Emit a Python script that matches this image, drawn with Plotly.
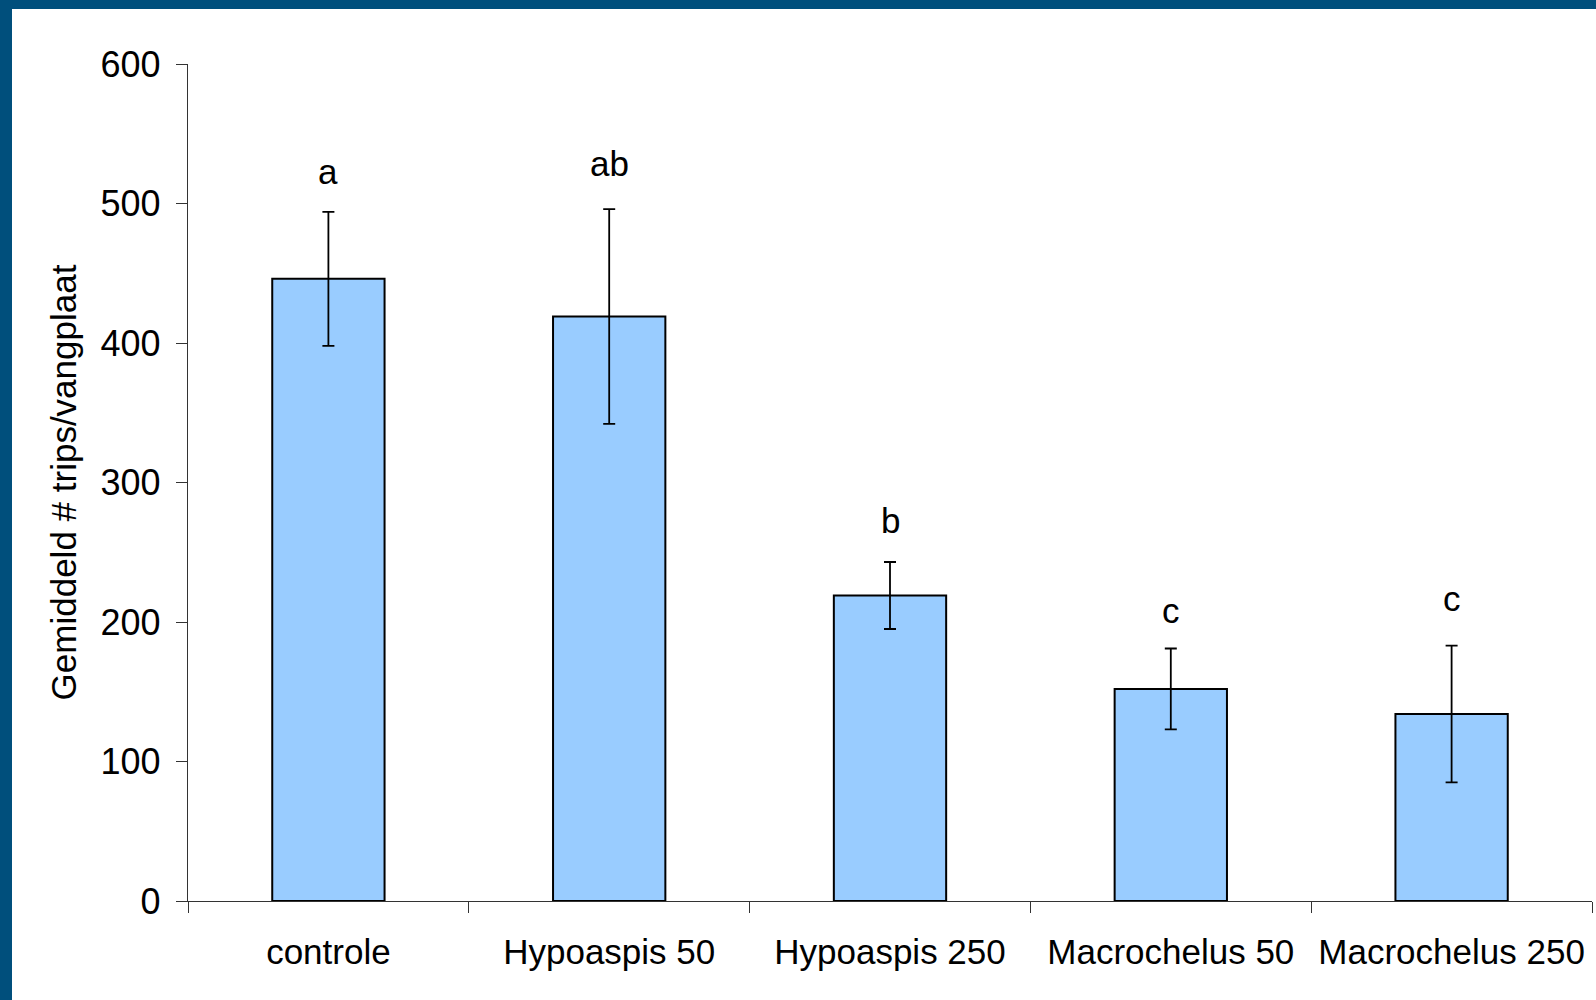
import plotly.graph_objects as go

categories = ["controle", "Hypoaspis 50", "Hypoaspis 250", "Macrochelus 50", "Macrochelus 250"]
means = [446, 419, 219, 152, 134]
errors = [48, 77, 24, 29, 49]
letters = ["a", "ab", "b", "c", "c"]
letter_y = [523, 529, 273, 208, 217]
y_ticks = [0, 100, 200, 300, 400, 500, 600]

W, H = 1596, 1000
L, R, T, B = 188, 4, 64, 99
pw, ph = W - L - R, H - T - B
FONT = "Liberation Sans, Arial, sans-serif"
BORDER = "#004f7c"

fig = go.Figure()
fig.add_trace(go.Bar(
    x=categories, y=means, width=0.4,
    marker=dict(color="#99ccff", line=dict(color="black", width=2)),
    error_y=dict(type="data", array=errors, visible=True, color="black", thickness=1.8, width=6),
))

for c, t, yy in zip(categories, letters, letter_y):
    fig.add_annotation(x=c, y=yy, text=t, showarrow=False,
                       font=dict(family=FONT, size=35, color="black"),
                       xref="x", yref="y", yanchor="middle")

def px(x):
    return (x - L) / pw

def py(y):
    return (H - B - y) / ph

fig.add_shape(type="rect", xref="paper", yref="paper", x0=px(-2), x1=px(12), y0=py(H + 2), y1=py(-2),
              fillcolor=BORDER, line=dict(width=0), layer="above")
fig.add_shape(type="rect", xref="paper", yref="paper", x0=px(-2), x1=px(W + 2), y0=py(9), y1=py(-2),
              fillcolor=BORDER, line=dict(width=0), layer="above")

fig.update_layout(
    width=W, height=H,
    margin=dict(l=L, r=R, t=T, b=B, pad=0),
    paper_bgcolor="white", plot_bgcolor="white",
    showlegend=False,
    font=dict(family=FONT, size=35, color="black"),
    xaxis=dict(
        type="category", range=[-0.5, 4.5], tickson="boundaries",
        showline=True, linecolor="#333333", linewidth=1.3,
        ticks="outside", ticklen=11, tickcolor="#333333", tickwidth=1.3,
        tickfont=dict(family=FONT, size=35), ticklabelstandoff=20,
        showgrid=False, zeroline=False,
    ),
    yaxis=dict(
        range=[0, 600], tickvals=y_ticks,
        showline=True, linecolor="#333333", linewidth=1.3,
        ticks="outside", ticklen=11, tickcolor="#333333", tickwidth=1.3,
        tickfont=dict(family=FONT, size=36), ticklabelstandoff=8,
        showgrid=False, zeroline=False,
        title=dict(text="Gemiddeld # trips/vangplaat", font=dict(family=FONT, size=35), standoff=13),
    ),
)

fig.write_html("out.html", config={"displayModeBar": False},
               post_script="document.body.style.margin='0';document.body.style.overflow='hidden';")
